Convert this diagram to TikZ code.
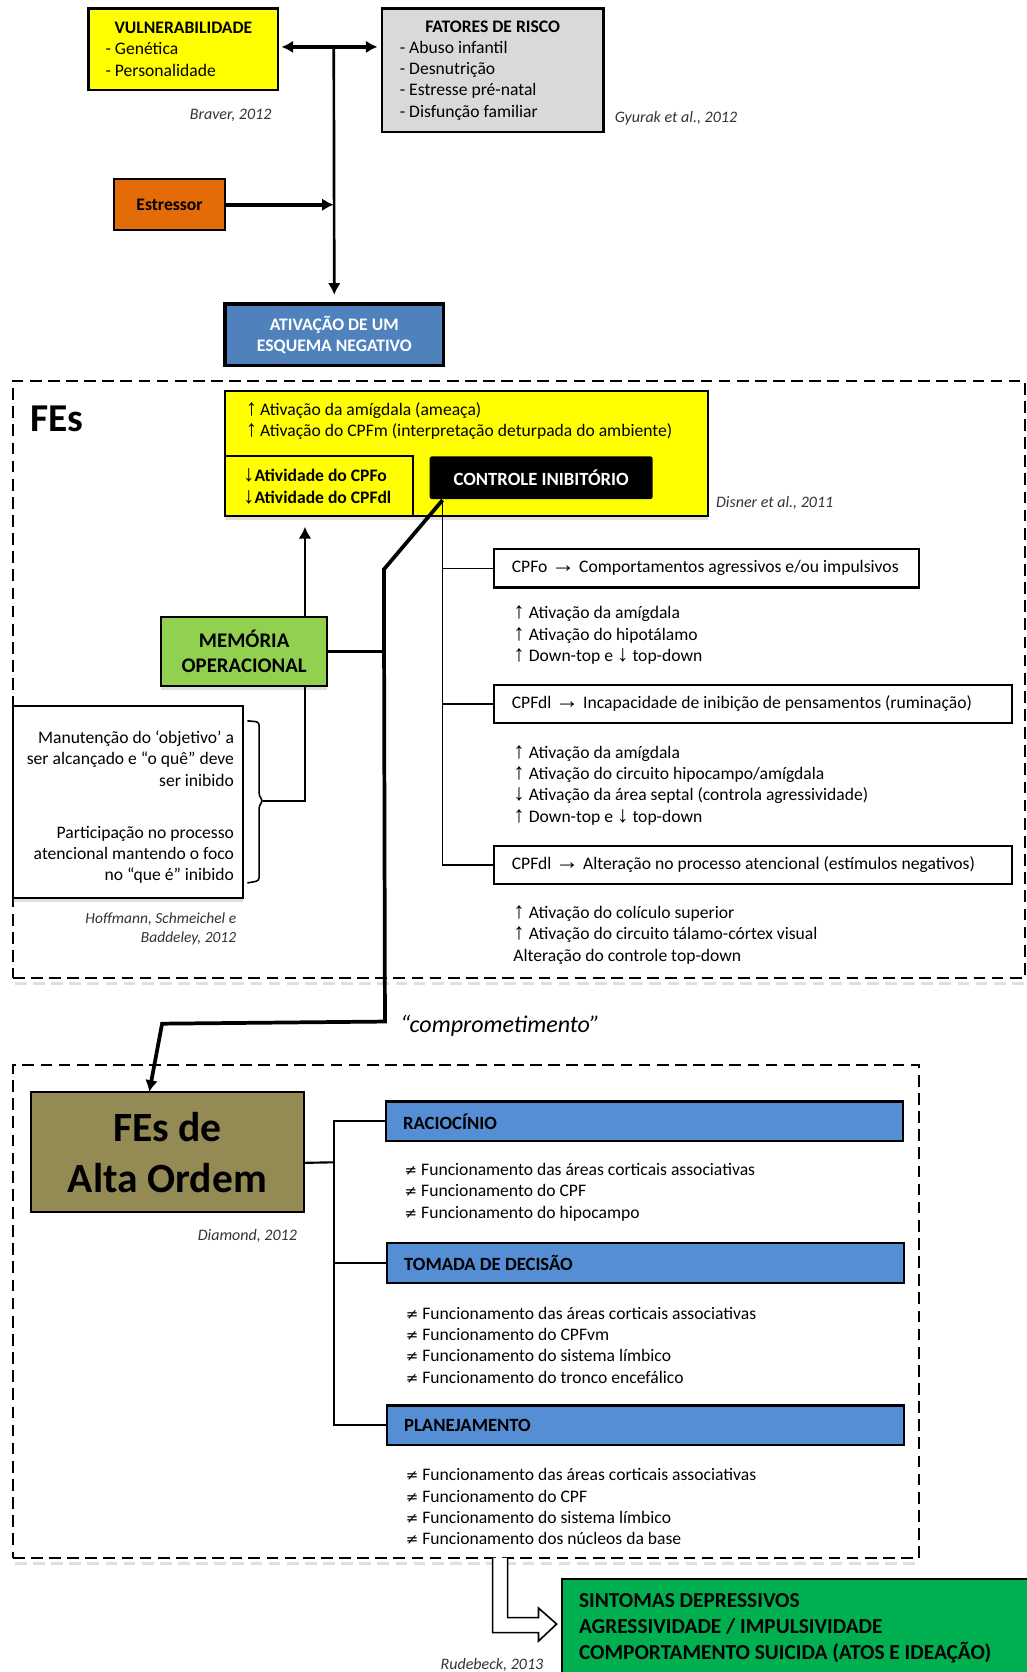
\documentclass[tikz,border=0pt]{standalone}
\usepackage{fontspec}
\setmainfont{Carlito}
\newfontfamily\symf{DejaVu Sans}[Scale=0.85]
\newfontfamily\arrf{Liberation Serif}[Scale=1.3]
\newfontfamily\arrh{Liberation Serif}[Scale=1.35]
\usetikzlibrary{arrows.meta,shadows}
\definecolor{vyellow}{HTML}{FFFF00}
\definecolor{rgray}{HTML}{D9D9D9}
\definecolor{sorange}{HTML}{E36C09}
\definecolor{eblue}{HTML}{4F81BD}
\definecolor{mgreen}{HTML}{92D050}
\definecolor{aolive}{HTML}{948A54}
\definecolor{tblue}{HTML}{558ED5}
\definecolor{sgreen}{HTML}{00B050}
\newcommand\arup{\smash{\arrf ↑}}
\newcommand\ardn{\smash{\arrf ↓}}
\newcommand\arr{{\arrh →}}
\newcommand\difer{{\symf ≠}}
\begin{document}
\begin{tikzpicture}[x=1pt,y=-1pt,
	every node/.style={font=\fontsize{16.5}{20}\selectfont},
	box/.style={draw=black,line width=2pt,inner sep=0pt},
	bold/.style={font=\fontsize{16.5}{20}\selectfont\bfseries},
	tit/.style={font=\fontsize{17.5}{21}\selectfont\bfseries},
	ref/.style={font=\fontsize{15}{18}\selectfont\itshape,text=black!80},
	frame/.style={draw=black,line width=2pt,dash pattern=on 11pt off 6pt},
	fshadow/.style={gray!25,line width=3pt,dash pattern=on 11pt off 6pt},
	shad/.style={drop shadow={opacity=0.25,shadow xshift=0pt,shadow yshift=-4pt}},
	seta/.style={-{Latex[length=11pt,width=12pt]}}]
	\useasboundingbox (0,0) rectangle (963,1568);
	% --- frames
	\draw[fshadow] (14,922) -- (961,922);
	\draw[fshadow] (14,1466) -- (862,1466);
	\node[frame,minimum width=949,minimum height=560] (fesframe) at (486.5,637) {};
	\node[frame,minimum width=850,minimum height=462] (altaframe) at (437,1230) {};
	% --- top
	\node[box,fill=vyellow,minimum width=178,minimum height=76,text width=146,align=flush left,inner xsep=16pt] (vuln) at (172,46)
		{\hfill\textbf{VULNERABILIDADE}\hfill\null\\- Genética\\- Personalidade};
	\node[box,fill=rgray,minimum width=208,minimum height=116,text width=174,align=flush left,inner xsep=17pt] (risco) at (462,66)
		{\hfill\textbf{FATORES DE RISCO}\hfill\null\\- Abuso infantil\\- Desnutrição\\- Estresse pré-natal\\- Disfunção familiar};
	\node[ref,anchor=east] (braver) at (258,108) {Braver, 2012};
	\node[ref,anchor=west] (gyurak) at (573,111) {Gyurak et al., 2012};
	\node[box,bold,fill=sorange,minimum width=104,minimum height=48] (estressor) at (159,192) {Estressor};
	\node[box,bold,line width=3pt,fill=eblue,text=white,minimum width=205,minimum height=58,align=center] (esquema) at (313.5,314)
		{ATIVAÇÃO DE UM\\ESQUEMA NEGATIVO};
	\coordinate (jt) at (313,44);
	\draw[line width=3pt,{Latex[length=11pt,width=12pt]}-{Latex[length=11pt,width=12pt]},shorten <=2pt,shorten >=3pt] (vuln.east |- jt) -- (risco.west |- jt);
	\draw[line width=2.5pt,seta,shorten >=7pt] (jt) -- (esquema.north);
	\draw[line width=3.5pt,seta] (estressor.east) -- (estressor.east -| jt);
	% --- FEs
	\node[anchor=west,font=\fontsize{37}{44}\selectfont\bfseries] (fes) at (25,393) {FEs};
	\node[box,fill=vyellow,shad,minimum width=453,minimum height=117] (amig) at (437.5,425.5) {};
	\node[anchor=west,align=flush left] (amigtxt) at (227,395)
		{\arup\,Ativação da amígdala (ameaça)\\\arup\,Ativação do CPFm (interpretação deturpada do ambiente)};
	\node[box,bold,fill=vyellow,minimum width=176,minimum height=56,text width=142,align=flush left,inner xsep=17pt] (cpf) at (299,456)
		{{\bfseries\ardn}Atividade do CPFo\\{\bfseries\ardn}Atividade do CPFdl};
	\node[tit,fill=black,text=white,rounded corners=2pt,minimum width=209,minimum height=40] (ci) at (507.5,448) {CONTROLE INIBITÓRIO};
	\node[ref,anchor=west] (disner) at (668,472) {Disner et al., 2011};
	\node[box,shad,fill=mgreen,font=\fontsize{19.5}{23}\selectfont\bfseries,minimum width=156,minimum height=64,align=center] (mem) at (229,611)
		{MEMÓRIA\\OPERACIONAL};
	\node[box,shad,fill=white,minimum width=216,minimum height=180] (wm) at (120,752) {};
	\node[anchor=east,align=flush right] (wmtxt) at ([xshift=-6pt,yshift=-5pt]wm.east)
		{Manutenção do ‘objetivo’ a\\ser alcançado e “o quê” deve\\ser inibido\\[29pt]Participação no processo\\atencional mantendo o foco\\no “que é” inibido};
	\node[ref,anchor=east,align=flush right,font=\fontsize{14.5}{18}\selectfont\itshape] (hoff) at (225,871) {Hoffmann, Schmeichel e\\Baddeley, 2012};
	% --- CPF boxes
	\node[box,minimum width=399,minimum height=36,text width=365,align=flush left,inner xsep=17pt] (b1) at (662.5,533)
		{\mbox{CPFo \arr\ Comportamentos agressivos e/ou impulsivos}};
	\node[anchor=west,align=flush left] (t1) at (478,596)
		{\arup\ Ativação da amígdala\\\arup\ Ativação do hipotálamo\\\arup\ Down-top e \ardn\ top-down};
	\node[box,minimum width=486,minimum height=36,text width=452,align=flush left,inner xsep=17pt] (b2) at (706,660)
		{\mbox{CPFdl \arr\ Incapacidade de inibição de pensamentos (ruminação)}};
	\node[anchor=west,align=flush left] (t2) at (478,736.5)
		{\arup\ Ativação da amígdala\\\arup\ Ativação do circuito hipocampo/amígdala\\\ardn\ Ativação da área septal (controla agressividade)\\\arup\ Down-top e \ardn\ top-down};
	\node[box,minimum width=486,minimum height=36,text width=452,align=flush left,inner xsep=17pt] (b3) at (706,811)
		{\mbox{CPFdl \arr\ Alteração no processo atencional (estímulos negativos)}};
	\node[anchor=west,align=flush left] (t3) at (478,877)
		{\arup\ Ativação do colículo superior\\\arup\ Ativação do circuito tálamo-córtex visual\\Alteração do controle top-down};
	% connectors
	\coordinate (cix) at (415,469);
	\coordinate (k1) at (360,534);
	\coordinate (k2) at (361,958);
	\coordinate (k3) at (152,960);
	\coordinate (ain) at (140,1024);
	\coordinate (mup) at (286,579);
	\coordinate (brt) at (247,751);
	\draw[line width=1.5pt] (cix) |- (b3.west);
	\draw[line width=1.5pt] (cix |- b1.west) -- (b1.west);
	\draw[line width=1.5pt] (cix |- b2.west) -- (b2.west);
	\draw[line width=3.5pt,seta] (cix) -- (k1) -- (k2) -- (k3) -- (ain);
	\draw[line width=3.5pt] (mem.east) -- (mem.east -| k1);
	\draw[line width=2.5pt,seta,shorten >=9pt] (mup) -- (mup |- cpf.south);
	\draw[line width=1.5pt] (mem.south -| mup) |- (brt);
	% bracket
	\draw[line width=1.5pt,line join=round,rounded corners=3pt] (232,676) -- (243,677) -- (243,747) -- (brt) -- (243,755) -- (243,826) -- (232,828);
	\node[anchor=west,font=\fontsize{22.5}{27}\selectfont\itshape] (comp) at (372,962) {“comprometimento”};
	% --- FEs de alta ordem
	\node[box,fill=aolive,font=\fontsize{39}{48}\selectfont\bfseries,minimum width=256,minimum height=113,align=center] (alta) at (157,1080.5)
		{FEs de\\Alta Ordem};
	\node[ref,anchor=east] (diamond) at (282,1159) {Diamond, 2012};
	\node[box,tit,fill=tblue,minimum width=485,minimum height=37,text width=453,align=flush left,inner xsep=16pt] (rac) at (604.5,1051.5) {RACIOCÍNIO};
	\node[anchor=west,align=flush left] (tr1) at (376,1118)
		{\difer\ Funcionamento das áreas corticais associativas\\\difer\ Funcionamento do CPF\\\difer\ Funcionamento do hipocampo};
	\node[box,tit,fill=tblue,minimum width=485,minimum height=37,text width=453,align=flush left,inner xsep=16pt] (tom) at (605.5,1184.5) {TOMADA DE DECISÃO};
	\node[anchor=west,align=flush left] (tr2) at (377,1261.5)
		{\difer\ Funcionamento das áreas corticais associativas\\\difer\ Funcionamento do CPFvm\\\difer\ Funcionamento do sistema límbico\\\difer\ Funcionamento do tronco encefálico};
	\node[box,tit,fill=tblue,minimum width=485,minimum height=37,text width=453,align=flush left,inner xsep=16pt] (pla) at (605.5,1336.5) {PLANEJAMENTO};
	\node[anchor=west,align=flush left] (tr3) at (377,1413)
		{\difer\ Funcionamento das áreas corticais associativas\\\difer\ Funcionamento do CPF\\\difer\ Funcionamento do sistema límbico\\\difer\ Funcionamento dos núcleos da base};
	\coordinate (tr) at (313,1090);
	\draw[line width=2pt] ([yshift=-10pt]alta.east) -- (tr);
	\draw[line width=2pt] (rac.west) -| (tr) |- (pla.west);
	\draw[line width=2pt] (tom.west) -- (tom.west -| tr);
	% --- sintomas
	\draw[line width=1.5pt,fill=white,line join=miter] (462,1461) -- (462,1531) -- (505,1531) -- (505,1539) -- (522,1523) -- (505,1508) -- (505,1517) -- (476,1517) -- (476,1461);
	\node[box,fill=sgreen,font=\fontsize{20}{24}\selectfont\bfseries,minimum width=448,minimum height=92,text width=416,align=flush left,inner xsep=16pt] (sint) at (751,1527)
		{SINTOMAS DEPRESSIVOS\\AGRESSIVIDADE / IMPULSIVIDADE\\COMPORTAMENTO SUICIDA (ATOS E IDEAÇÃO)};
	\node[ref,anchor=east] (rude) at (513,1561) {Rudebeck, 2013};
\end{tikzpicture}
\end{document}
